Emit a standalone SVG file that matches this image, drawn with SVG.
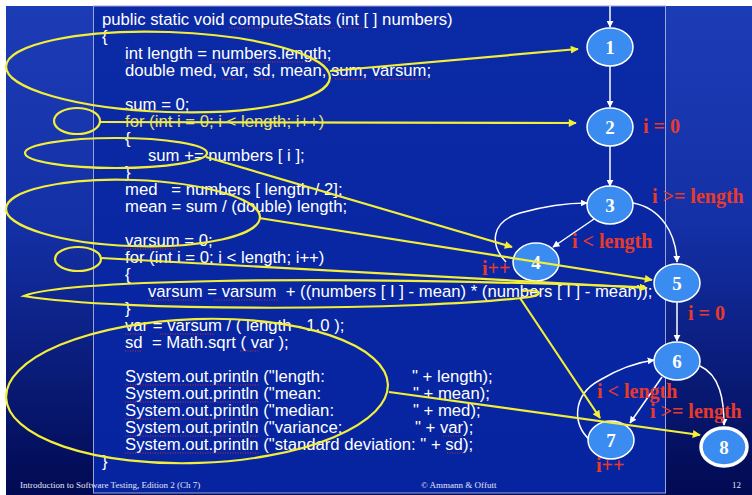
<svg xmlns="http://www.w3.org/2000/svg" width="752" height="495" viewBox="0 0 752 495">
  <defs>
    <linearGradient id="slideBg" x1="0" y1="0" x2="0" y2="1">
      <stop offset="0" stop-color="#1c3cb6"/>
      <stop offset="0.45" stop-color="#1430a6"/>
      <stop offset="1" stop-color="#010a52"/>
    </linearGradient>
    <linearGradient id="panelBg" x1="0" y1="0" x2="0" y2="1">
      <stop offset="0" stop-color="#0b2aa6"/>
      <stop offset="1" stop-color="#0724a0"/>
    </linearGradient>
    <marker id="wArrow" viewBox="0 0 10 10" refX="9" refY="5" markerWidth="7" markerHeight="7" markerUnits="userSpaceOnUse" orient="auto">
      <path d="M0,0 L10,5 L0,10 z" fill="#ffffff"/>
    </marker>
    <marker id="yArrow" viewBox="0 0 10 10" refX="9" refY="5" markerWidth="9" markerHeight="8" markerUnits="userSpaceOnUse" orient="auto">
      <path d="M0,0 L10,5 L0,10 z" fill="#f2ee3a"/>
    </marker>
    <style>
      .code { font-family: "Liberation Sans", Arial, sans-serif; font-size: 16.7px; fill: #ffffff; }
      .cond { font-family: "Liberation Serif", "Times New Roman", serif; font-size: 20px; font-weight: bold; fill: #e83a2a; }
      .node ellipse { fill: #3a8cf0; stroke: #ffffff; stroke-width: 1.5; }
      .node text { font-family: "Liberation Serif", "Times New Roman", serif; font-size: 19px; font-weight: bold; fill: #ffffff; text-anchor: middle; }
      .edge { fill: none; stroke: #ffffff; stroke-width: 1.5; marker-end: url(#wArrow); }
      .mark { fill: none; stroke: #f2ee3a; stroke-width: 2.2; }
      .pointer { fill: none; stroke: #f2ee3a; stroke-width: 2.2; marker-end: url(#yArrow); }
      .squiggle { stroke: #d42a2a; stroke-width: 1; stroke-dasharray: 1 1.5; }
      .foot { font-family: "Liberation Serif", "Times New Roman", serif; font-size: 9px; fill: #e4e6f4; }
    </style>
  </defs>

  <!-- slide background with white margin -->
  <rect x="0" y="0" width="752" height="495" fill="#ffffff"/>
  <rect x="6" y="6" width="746" height="489" fill="url(#slideBg)"/>
  <rect x="93.5" y="6" width="572" height="487" fill="url(#panelBg)" stroke="#9aa4d8" stroke-width="1"/>

  <!-- source code -->
  <g id="code" class="code">
    <text x="102" y="25">public static void computeStats (int [ ] numbers)</text>
    <text x="102" y="42">{</text>
    <text x="125" y="59">int length = numbers.length;</text>
    <text x="125" y="76">double med, var, sd, mean, sum, varsum;</text>
    <text x="125" y="110">sum = 0;</text>
    <text x="125" y="127" fill="#e6e070">for (int i = 0; i &lt; length; i++)</text>
    <text x="125" y="144">{</text>
    <text x="148" y="161">sum += numbers [ i ];</text>
    <text x="125" y="178">}</text>
    <text x="125" y="195">med&#160;&#160; = numbers [ length / 2];</text>
    <text x="125" y="212">mean = sum / (double) length;</text>
    <text x="125" y="246">varsum = 0;</text>
    <text x="125" y="263">for (int i = 0; i &lt; length; i++)</text>
    <text x="125" y="280">{</text>
    <text x="148" y="297">varsum = varsum&#160; + ((numbers [ I ] - mean) * (numbers [ I ] - mean));</text>
    <text x="125" y="314">}</text>
    <text x="125" y="331">var = varsum / ( length - 1.0 );</text>
    <text x="125" y="348">sd&#160; = Math.sqrt ( var );</text>
    <text x="125" y="382">System.out.println ("length:</text><text x="412" y="382">" + length);</text>
    <text x="125" y="399">System.out.println ("mean:</text><text x="413" y="399">" + mean);</text>
    <text x="125" y="416">System.out.println ("median:</text><text x="413" y="416">" + med);</text>
    <text x="125" y="433">System.out.println ("variance:</text><text x="415" y="433">" + var);</text>
    <text x="125" y="450">System.out.println ("standard deviation: " + sd);</text>
    <text x="102" y="467">}</text>
  </g>

  <!-- spell-check underlines -->
  <g id="squiggles" class="squiggle">
    <line x1="229" y1="28" x2="336" y2="28"/>
    <line x1="343" y1="28" x2="364" y2="28"/>
    <line x1="125" y1="62" x2="137" y2="62"/>
    <line x1="212" y1="62" x2="328" y2="62"/>
    <line x1="222" y1="79" x2="237" y2="79"/>
    <line x1="258" y1="79" x2="270" y2="79"/>
    <line x1="335" y1="79" x2="366" y2="79"/>
    <line x1="375" y1="79" x2="428" y2="79"/>
    <line x1="125" y1="249" x2="176" y2="249"/>
    <line x1="148" y1="300" x2="199" y2="300"/>
    <line x1="214" y1="300" x2="278" y2="300"/>
    <line x1="125" y1="334" x2="143" y2="334"/>
    <line x1="160" y1="334" x2="214" y2="334"/>
    <line x1="125" y1="351" x2="141" y2="351"/>
    <line x1="240" y1="351" x2="260" y2="351"/>
    <line x1="125" y1="385" x2="259" y2="385"/>
    <line x1="125" y1="402" x2="259" y2="402"/>
    <line x1="125" y1="419" x2="259" y2="419"/>
    <line x1="125" y1="436" x2="259" y2="436"/>
    <line x1="125" y1="453" x2="259" y2="453"/>
    <line x1="443" y1="436" x2="462" y2="436"/>
    <line x1="447" y1="453" x2="465" y2="453"/>
  </g>

  <!-- control flow graph edges -->
  <g id="connectors">
    <path class="edge" d="M610 6 L610 27"/>
    <path class="edge" d="M610 66 L610 107"/>
    <path class="edge" d="M610 146 L610 186"/>
    <path class="edge" d="M594 219 L553 247"/>
    <path class="edge" d="M506 262 C490 245 490 222 520 213 C545 206 570 203 587 203"/>
    <path class="edge" d="M633 203 C660 208 676 232 677 262"/>
    <path class="edge" d="M677 302 L677 341"/>
    <path class="edge" d="M662 377 L630 423"/>
    <path class="edge" d="M590 440 C572 425 572 395 600 380 C620 368 640 362 654 360"/>
    <path class="edge" d="M700 366 C720 375 724 400 724 425"/>
  </g>

  <!-- nodes -->
  <g id="node1" class="node"><ellipse cx="610" cy="47" rx="23" ry="19"/><text x="610" y="54">1</text></g>
  <g id="node2" class="node"><ellipse cx="610" cy="127" rx="23" ry="19"/><text x="610" y="134">2</text></g>
  <g id="node3" class="node"><ellipse cx="610" cy="205" rx="23" ry="19"/><text x="610" y="212">3</text></g>
  <g id="node4" class="node"><ellipse cx="536" cy="262" rx="23" ry="19"/><text x="536" y="269">4</text></g>
  <g id="node5" class="node"><ellipse cx="677" cy="283" rx="23" ry="19"/><text x="677" y="290">5</text></g>
  <g id="node6" class="node"><ellipse cx="677" cy="361" rx="23" ry="19"/><text x="677" y="368">6</text></g>
  <g id="node7" class="node"><ellipse cx="611" cy="440" rx="23" ry="19"/><text x="611" y="447">7</text></g>
  <g id="node8" class="node"><ellipse cx="724" cy="447" rx="23" ry="19" style="stroke-width:3.5"/><text x="724" y="454">8</text></g>

  <!-- branch conditions -->
  <g id="conditions" class="cond">
    <text x="643" y="133">i = 0</text>
    <text x="652" y="203">i &gt;= length</text>
    <text x="572" y="248">i &lt; length</text>
    <text x="482" y="275">i++</text>
    <text x="688" y="320">i = 0</text>
    <text x="597" y="398">i &lt; length</text>
    <text x="650" y="418">i &gt;= length</text>
    <text x="596" y="472">i++</text>
  </g>

  <!-- highlighted code regions and pointers to nodes -->
  <g id="annotations">
    <ellipse class="mark" cx="168" cy="72" rx="162" ry="40" transform="rotate(2 168 72)"/>
    <ellipse class="mark" cx="77" cy="121" rx="23" ry="13"/>
    <ellipse class="mark" cx="116" cy="153" rx="91" ry="15"/>
    <ellipse class="mark" cx="133" cy="213" rx="127" ry="33" transform="rotate(2 133 213)"/>
    <ellipse class="mark" cx="78" cy="259" rx="23" ry="12"/>
    <path class="mark" d="M530 297 C420 311 120 312 24 296 C60 281 300 274 640 287"/>
    <path class="mark" d="M530 297 C545 294 540 289 522 291"/>
    <ellipse class="mark" cx="197" cy="391" rx="191" ry="72" transform="rotate(-2 197 391)"/>
    <path class="pointer" d="M330 71 L578 49"/>
    <path class="pointer" d="M100 122 L576 123"/>
    <path class="pointer" d="M206 157 L512 247"/>
    <path class="pointer" d="M259 218 L652 280"/>
    <path class="pointer" d="M101 258 L647 288"/>
    <path class="pointer" d="M520 298 L600 418"/>
    <path class="pointer" d="M389 392 L700 435"/>
  </g>

  <!-- footer -->
  <g id="footer" class="foot">
    <text x="20" y="488">Introduction to Software Testing, Edition 2  (Ch 7)</text>
    <text x="421" y="488">© Ammann &amp; Offutt</text>
    <text x="732" y="488">12</text>
  </g>
</svg>
